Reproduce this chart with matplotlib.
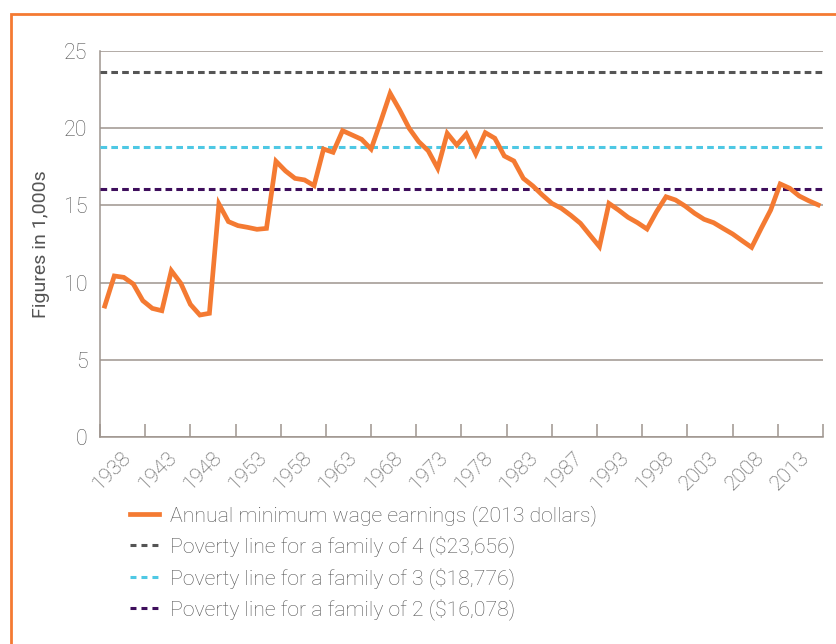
import matplotlib.pyplot as plt
from matplotlib.lines import Line2D
from matplotlib.patches import Rectangle
import numpy as np

plt.rcParams["font.family"] = ["Roboto", "Liberation Sans", "DejaVu Sans"]
plt.rcParams["font.weight"] = "light"
plt.rcParams["lines.scale_dashes"] = False

# Annual minimum wage earnings, 1938-2013, thousands of 2013 dollars
years = list(range(1938, 2014))
earnings = [
    8.48, 10.43, 10.34, 9.91, 8.83, 8.33, 8.18, 10.77, 9.95, 8.59,
    7.90, 8.01, 15.09, 13.95, 13.69, 13.58, 13.45, 13.51, 17.86, 17.23,
    16.75, 16.65, 16.28, 18.65, 18.44, 19.84, 19.56, 19.28, 18.65, 20.42,
    22.26, 21.18, 19.99, 19.13, 18.54, 17.40, 19.67, 18.91, 19.62, 18.33,
    19.71, 19.35, 18.20, 17.88, 16.75, 16.26, 15.67, 15.13, 14.81, 14.35,
    13.84, 13.08, 12.33, 15.13, 14.70, 14.23, 13.88, 13.47, 14.59, 15.56,
    15.35, 14.96, 14.49, 14.10, 13.88, 13.51, 13.15, 12.71, 12.28, 13.51,
    14.70, 16.39, 16.11, 15.61, 15.30, 15.03,
]
tick_labels = ["1938", "1943", "1948", "1953", "1958", "1963", "1968", "1973",
               "1978", "1983", "1987", "1993", "1998", "2003", "2008", "2013"]
poverty_lines = [23.656, 18.776, 16.078]
poverty_labels = [
    "Poverty line for a family of 4 ($23,656)",
    "Poverty line for a family of 3 ($18,776)",
    "Poverty line for a family of 2 ($16,078)",
]

orange = "#F47A32"
poverty_colors = ["#555555", "#4EC8E4", "#3E0E5C"]
axis_color = "#9E958E"
text_color = "#555555"

fig = plt.figure(figsize=(8.37, 6.44), dpi=100)
ax = fig.add_axes([100 / 837, 1 - 437 / 644, 723 / 837, 386 / 644])

# orange frame around the figure (left and top visible)
fig.patches.append(Rectangle((10.7 / 837, -0.2), 1.2, 1.2 - 13.8 / 644,
                             transform=fig.transFigure, fill=False,
                             edgecolor=orange, linewidth=2.0))

n = len(years)
x = np.arange(n)
dash = (4.8, 3.0)
for val, col in zip(poverty_lines, poverty_colors):
    ax.plot([-0.5, n - 0.5], [val, val], color=col, lw=2.2, dashes=dash, zorder=3)
ax.plot(x, earnings, color=orange, lw=3.4, solid_joinstyle="miter", zorder=4)

ax.set_xlim(-0.5, n - 0.5)
ax.set_ylim(0, 25)
ax.set_yticks([0, 5, 10, 15, 20, 25])
ax.yaxis.grid(True, color=axis_color, lw=1.1)
ax.set_axisbelow(True)
ax.tick_params(axis="y", length=0, pad=9, labelsize=15.5, labelcolor=text_color)

step = n / 16
ax.set_xticks([-0.5 + step * k for k in range(17)])
ax.set_xticklabels([])
ax.tick_params(axis="x", which="major", direction="in", length=9.5, width=1.1,
               color=axis_color)
ax.set_xticks([-0.5 + step * (k + 1) - 1.1 for k in range(16)], minor=True)
ax.set_xticklabels(tick_labels, minor=True, rotation=45, ha="right",
                   fontsize=15, color=text_color)
ax.tick_params(axis="x", which="minor", length=0, pad=8)

for s in ["top", "right"]:
    ax.spines[s].set_visible(False)
for s in ["left", "bottom"]:
    ax.spines[s].set_color(axis_color)
    ax.spines[s].set_linewidth(1.1)

ax.set_ylabel("Figures in 1,000s", fontsize=14, color=text_color, labelpad=10)

handles = [Line2D([], [], color=orange, lw=3.4)]
handles += [Line2D([], [], color=c, lw=2.2, dashes=(4.3, 3.6)) for c in poverty_colors]
labels = ["Annual minimum wage earnings (2013 dollars)"] + poverty_labels
fig.legend(handles, labels, loc="upper left", bbox_to_anchor=(130 / 837, 1 - 505 / 644),
           frameon=False, fontsize=15.3, labelcolor=text_color, handlelength=1.35,
           handletextpad=0.55, labelspacing=0.46, borderpad=0, borderaxespad=0)

fig.savefig("out.png", dpi=100)
